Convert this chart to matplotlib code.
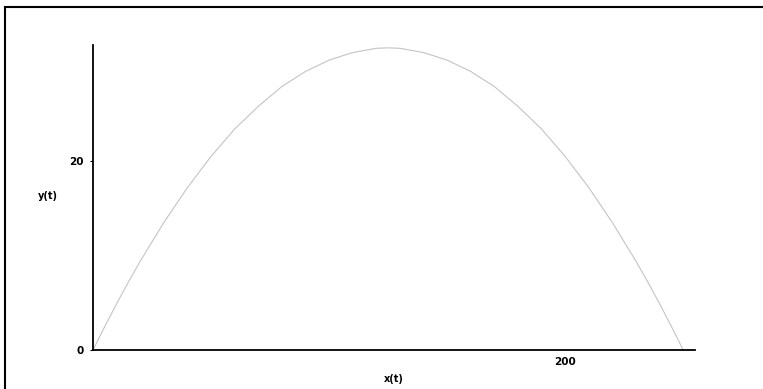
import matplotlib.pyplot as plt
from matplotlib.lines import Line2D

# trajectory points
x_t = [0, 5, 10, 15, 20, 30, 40, 50, 60, 70, 80, 90, 100, 110, 120, 125,
       130, 140, 150, 160, 170, 180, 190, 200, 210, 220, 230, 235, 240, 245, 250]
y_t = [0, 2.5, 4.9, 7.2, 9.4, 13.5, 17.2, 20.5, 23.4, 25.8, 27.9, 29.5, 30.7, 31.5, 31.95, 32.0,
       31.95, 31.5, 30.7, 29.5, 27.9, 25.8, 23.4, 20.5, 17.2, 13.5, 9.4, 7.2, 4.9, 2.5, 0]
xticks = [200]
yticks = [0, 20]

W, H = 763, 389
fig = plt.figure(figsize=(W / 100, H / 100), dpi=100)
ax = fig.add_axes([93 / W, 1 - 350 / H, (695 - 93) / W, (350 - 45) / H])

ax.plot(x_t, y_t, color='#c4c4c4', lw=0.8)

ax.set_xlim(0, 255)
ax.set_ylim(0, 32.3)
ax.set_xticks(xticks)
ax.set_yticks(yticks)
ax.tick_params(axis='x', length=0, pad=5, labelsize=7.5)
ax.tick_params(axis='y', length=2, width=0.8, pad=5, labelsize=7.5)
for lab in ax.get_xticklabels() + ax.get_yticklabels():
    lab.set_fontweight('bold')

for s in ['top', 'right']:
    ax.spines[s].set_visible(False)
ax.spines['left'].set_linewidth(1.3)
ax.spines['bottom'].set_linewidth(1.3)

ax.set_xlabel('x(t)', fontsize=7, fontweight='bold', labelpad=5)
ax.set_ylabel('y(t)', fontsize=7, fontweight='bold', rotation=0, labelpad=22)
ax.yaxis.set_label_coords(-0.075, 0.49)

# frame lines along top and left of the image
fig.add_artist(Line2D([5 / W, 1], [1 - 7 / H, 1 - 7 / H], transform=fig.transFigure,
                      color='black', lw=1.5))
fig.add_artist(Line2D([5 / W, 5 / W], [0, 1 - 7 / H], transform=fig.transFigure,
                      color='black', lw=1.5))

fig.savefig('out.png', dpi=100)
